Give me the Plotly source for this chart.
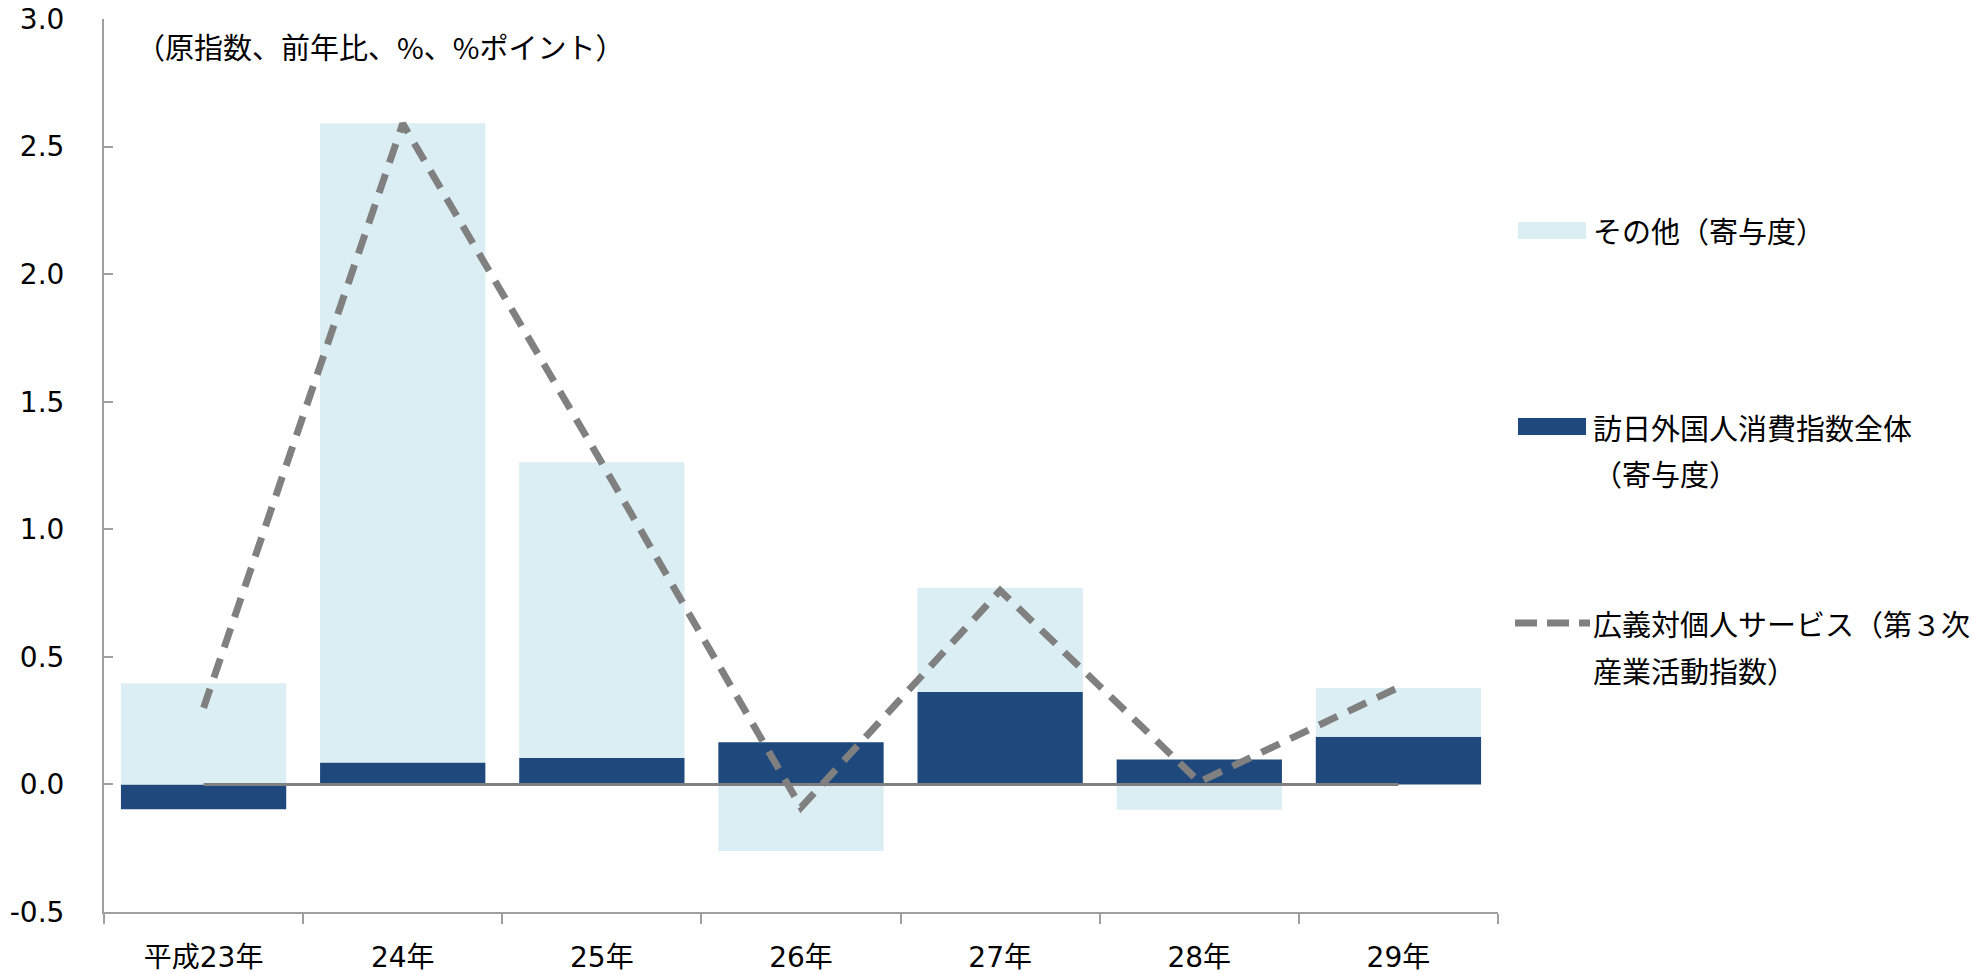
import plotly.graph_objects as go

# ---- data ----
categories = ["平成23年", "24年", "25年", "26年", "27年", "28年", "29年"]
inbound_contrib = [-0.097, 0.086, 0.104, 0.165, 0.362, 0.098, 0.187]   # 訪日外国人消費指数全体（寄与度）
other_contrib = [0.397, 2.505, 1.159, -0.261, 0.409, -0.099, 0.191]    # その他（寄与度）
service_index = [0.30, 2.59, 1.26, -0.09, 0.76, 0.01, 0.38]            # 広義対個人サービス
baseline = [0, 0, 0, 0, 0, 0, 0]

y_tickvals = [-0.5, 0.0, 0.5, 1.0, 1.5, 2.0, 2.5, 3.0]
y_ticktext = ["-0.5", "0.0", "0.5", "1.0", "1.5", "2.0", "2.5", "3.0"]

legend_names = ["その他（寄与度）", "訪日外国人消費指数全体", "（寄与度）",
                "広義対個人サービス（第３次", "産業活動指数）"]
unit_note = "（原指数、前年比、%、%ポイント）"

# ---- style ----
W, H = 1972, 974
ML, MR, MT, MB = 104, 474, 19, 62
DARK = "#1F497D"
LIGHT = "#DBEEF4"
GRAY = "#808080"
AXIS = "#A0A0A0"
FONT = "DejaVu Sans, Noto Sans CJK JP, sans-serif"
CJK = "Noto Sans CJK JP, sans-serif"

pw, ph = W - ML - MR, H - MT - MB


def px(x):
    return (x - ML) / pw


def py(y):
    return (H - MB - y) / ph


fig = go.Figure()
fig.add_trace(go.Bar(x=categories, y=inbound_contrib, marker=dict(color=DARK, line=dict(width=0)),
                     name="訪日外国人消費指数全体（寄与度）", showlegend=False))
fig.add_trace(go.Bar(x=categories, y=other_contrib, marker=dict(color=LIGHT, line=dict(width=0)),
                     name="その他（寄与度）", showlegend=False))
fig.add_trace(go.Scatter(x=categories, y=baseline, mode="lines",
                         line=dict(color=GRAY, width=3), showlegend=False, hoverinfo="skip"))
fig.add_trace(go.Scatter(x=categories, y=service_index, mode="lines",
                         line=dict(color=GRAY, width=7, dash="20px,12px"),
                         name="広義対個人サービス（第３次産業活動指数）", showlegend=False))

shapes = []
annotations = []
# legend: その他
shapes.append(dict(type="rect", xref="paper", yref="paper", x0=px(1518), x1=px(1586),
                   y0=py(239), y1=py(222), fillcolor=LIGHT, line=dict(width=0)))
# legend: 訪日
shapes.append(dict(type="rect", xref="paper", yref="paper", x0=px(1518), x1=px(1586),
                   y0=py(435), y1=py(418), fillcolor=DARK, line=dict(width=0)))
# legend: dashed line
shapes.append(dict(type="line", xref="paper", yref="paper", x0=px(1515), x1=px(1590),
                   y0=py(623), y1=py(623), line=dict(color=GRAY, width=7, dash="22px,10px")))

leg_text_pos = [(legend_names[0], 230), (legend_names[1], 427), (legend_names[2], 473),
                (legend_names[3], 623), (legend_names[4], 670)]
for t, yy in leg_text_pos:
    annotations.append(dict(text=t, xref="paper", yref="paper", x=px(1591), y=py(yy),
                            xanchor="left", yanchor="middle", showarrow=False,
                            font=dict(family=CJK, size=29, color="#000000")))

annotations.append(dict(text=unit_note, xref="paper", yref="paper", x=px(380), y=py(46),
                        xanchor="center", yanchor="middle", showarrow=False,
                        font=dict(family=CJK, size=29, color="#000000")))

fig.update_layout(
    width=W, height=H,
    margin=dict(l=ML, r=MR, t=MT, b=MB, pad=0),
    paper_bgcolor="white", plot_bgcolor="white",
    barmode="relative", bargap=0.17,
    showlegend=False,
    font=dict(family=FONT, size=28, color="#000000"),
    shapes=shapes, annotations=annotations,
    xaxis=dict(type="category", range=[-0.5, 6.5], showline=True, linecolor=AXIS, linewidth=2,
               ticks="outside", ticklen=10, tickwidth=2, tickcolor=AXIS, tickson="boundaries",
               showgrid=False, zeroline=False, ticklabelstandoff=19, automargin=False,
               tickfont=dict(family=FONT, size=28, color="#000000")),
    yaxis=dict(range=[-0.5, 3.0], tickmode="array", tickvals=y_tickvals, ticktext=y_ticktext,
               showline=True, automargin=False,
               linecolor=AXIS, linewidth=2, ticks="inside", ticklen=9, tickwidth=2, tickcolor=AXIS,
               showgrid=False, zeroline=False, ticklabelstandoff=32,
               tickfont=dict(family=FONT, size=28, color="#000000")),
)

fig.write_html("out.html")
